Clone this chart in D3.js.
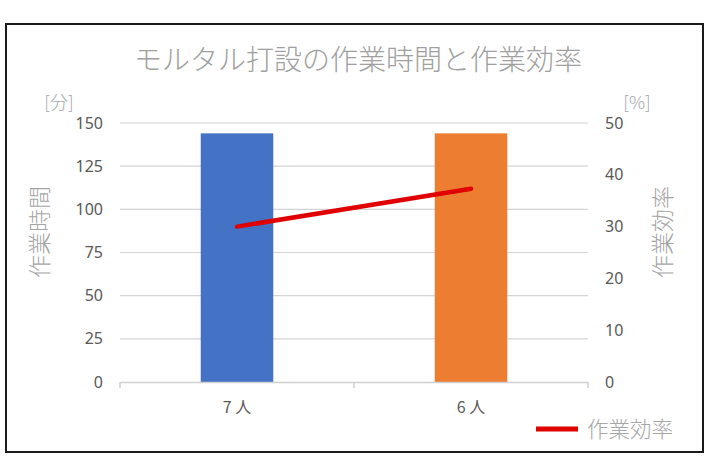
<!DOCTYPE html>
<html><head><meta charset="utf-8">
<script src="https://cdn.jsdelivr.net/npm/d3@7"></script>
<style>
body{margin:0;background:#fff;}
text{font-family:"Noto Sans CJK JP","Noto Sans",sans-serif;}
</style></head>
<body><svg id="c" width="710" height="474"></svg>
<script>
const categories = ["7 人", "6 人"];
const timeValues = [144, 144];          // 作業時間 [分]
const efficiencyValues = [30, 37.3];    // 作業効率 [%]
const leftTicks = [0, 25, 50, 75, 100, 125, 150];
const rightTicks = [0, 10, 20, 30, 40, 50];
const barColors = ["#4472C4", "#ED7D31"];

const svg = d3.select("#c");
svg.append("rect").attr("x",6).attr("y",24).attr("width",697).attr("height",428)
  .attr("fill","#fff").attr("stroke","#1a1a1a").attr("stroke-width",2);

const L=120, R=588, T=123, B=382;
const x = d3.scaleBand().domain(categories).range([L,R]).paddingInner(0).paddingOuter(0);
const yL = d3.scaleLinear().domain([0,150]).range([B,T]);
const yR = d3.scaleLinear().domain([0,50]).range([B,T]);

// gridlines
svg.append("g").selectAll("line").data(leftTicks.filter(d=>d>0)).join("line")
  .attr("x1",L).attr("x2",R).attr("y1",d=>yL(d)).attr("y2",d=>yL(d))
  .attr("stroke","#d4d4d4").attr("stroke-width",1.2);

// left axis labels
const gl = svg.append("g").attr("transform",`translate(${L},0)`)
  .call(d3.axisLeft(yL).tickValues(leftTicks).tickSize(0).tickPadding(17));
gl.select(".domain").remove();
gl.selectAll("text").attr("fill","#595959").style("font-size","16px").style("font-family","'Noto Sans','Liberation Sans',sans-serif");

const gr = svg.append("g").attr("transform",`translate(${R},0)`)
  .call(d3.axisRight(yR).tickValues(rightTicks).tickSize(0).tickPadding(17));
gr.select(".domain").remove();
gr.selectAll("text").attr("fill","#595959").style("font-size","16px").style("font-family","'Noto Sans','Liberation Sans',sans-serif");

// bars
const bw = x.bandwidth()*0.31;
svg.append("g").selectAll("rect").data(categories).join("rect")
  .attr("x",d=>x(d)+x.bandwidth()/2-bw/2).attr("width",bw)
  .attr("y",(d,i)=>yL(timeValues[i])).attr("height",(d,i)=>B-yL(timeValues[i]))
  .attr("fill",(d,i)=>barColors[i]);

// x axis
const gx = svg.append("g").attr("transform",`translate(0,${B})`)
  .call(d3.axisBottom(x).tickSize(0).tickPadding(20));
gx.select(".domain").attr("stroke","#d0d0d0").attr("stroke-width",1.5);
gx.selectAll("text").attr("fill","#595959").style("font-size","16px");
const edges = [L, ...categories.slice(1).map(c=>x(c)), R];
svg.append("g").selectAll("line").data(edges).join("line")
  .attr("x1",d=>d).attr("x2",d=>d).attr("y1",B).attr("y2",B+6)
  .attr("stroke","#d0d0d0").attr("stroke-width",1.5);

// line
const line = d3.line().x((d,i)=>x(categories[i])+x.bandwidth()/2).y(d=>yR(d));
svg.append("path").datum(efficiencyValues).attr("d",line)
  .attr("fill","none").attr("stroke","#E00000").attr("stroke-width",4.5).attr("stroke-linecap","round");

// title
svg.append("text").attr("x",358).attr("y",70).attr("text-anchor","middle")
  .attr("fill","#a0a0a0").style("font-size","28px").style("font-weight","300")
  .text("モルタル打設の作業時間と作業効率");

// units
svg.append("text").attr("x",59).attr("y",109).attr("text-anchor","middle")
  .attr("fill","#a6a6a6").style("font-size","18px").style("font-weight","300").text("[分]");
svg.append("text").attr("x",637).attr("y",109).attr("text-anchor","middle")
  .attr("fill","#a6a6a6").style("font-size","18px").style("font-weight","300").text("[%]");

// axis titles
svg.append("text").attr("transform","translate(48,232) rotate(-90)").attr("text-anchor","middle")
  .attr("fill","#a6a6a6").style("font-size","23px").style("font-weight","300").text("作業時間");
svg.append("text").attr("transform","translate(671,232) rotate(-90)").attr("text-anchor","middle")
  .attr("fill","#a6a6a6").style("font-size","23px").style("font-weight","300").text("作業効率");

// legend
svg.append("line").attr("x1",536).attr("x2",578).attr("y1",429).attr("y2",429)
  .attr("stroke","#E00000").attr("stroke-width",5);
svg.append("text").attr("x",587).attr("y",437).attr("fill","#a6a6a6")
  .style("font-size","21.5px").style("font-weight","300").text("作業効率");
</script></body></html>
